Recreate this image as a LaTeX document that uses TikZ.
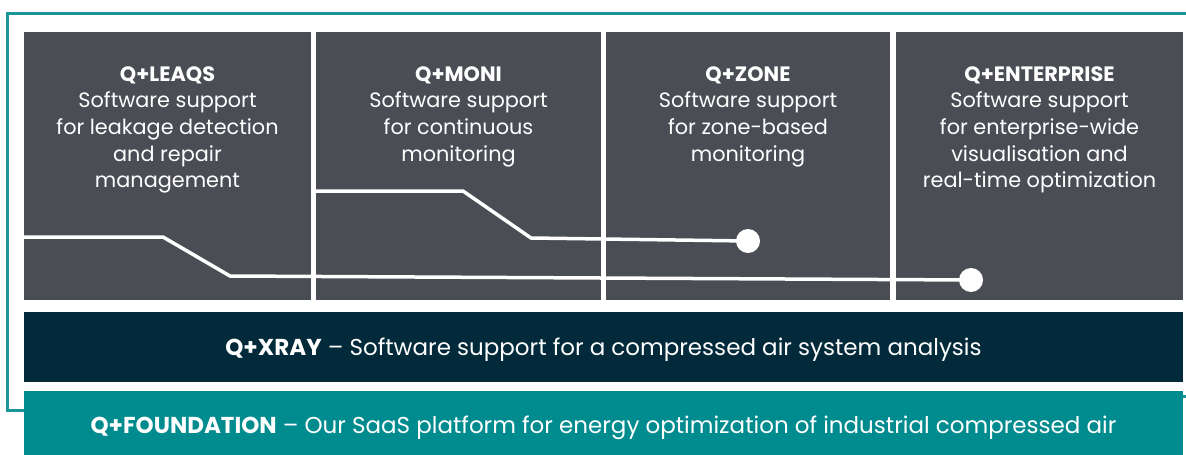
\documentclass[tikz,border=0pt]{standalone}
\usepackage{fontspec}
\setmainfont{Poppins}
\definecolor{boxgray}{HTML}{4B4D55}
\definecolor{xraynavy}{HTML}{022A3A}
\definecolor{qteal}{HTML}{008B8F}
\definecolor{frameteal}{HTML}{1A9698}
\tikzset{
  modbox/.style={fill=boxgray, draw=none, anchor=north west, inner sep=0pt, minimum height=268pt},
  modtext/.style={text=white, align=center, anchor=north, inner sep=0pt, font=\fontsize{20.8}{26.7}\selectfont},
  bandtext/.style={text=white, anchor=base, inner sep=0pt, font=\fontsize{23}{27}\selectfont},
  track/.style={white, line width=3.5pt, line join=miter},
  stopdot/.style={circle, fill=white, inner sep=0pt, minimum size=24pt},
  frame/.style={frameteal, line width=3pt}
}
\begin{document}
\begin{tikzpicture}[x=1pt,y=-1pt]
\useasboundingbox (0,0) rectangle (1186,455);
% frame
\draw[frame] (24,410) -- (7,410) -- (7,13) -- (1186,13);
\draw[frame] (1183,396) -- (1186,396);
% boxes
\node[modbox, minimum width=287pt] (b1) at (24,32) {};
\node[modbox, minimum width=285pt] (b2) at (316,32) {};
\node[modbox, minimum width=284pt] (b3) at (606,32) {};
\node[modbox, minimum width=287pt] (b4) at (896,32) {};
\node[fill=xraynavy, anchor=north west, inner sep=0pt, minimum width=1159pt, minimum height=70pt] (xray) at (24,312) {};
\node[fill=qteal, anchor=north west, inner sep=0pt, minimum width=1159pt, minimum height=64pt] (found) at (24,391) {};
% texts
\node[modtext] (t1) at (167.5,66) {\textbf{Q+LEAQS}\\Software support\\for leakage detection\\and repair\\management};
\node[modtext] (t2) at (458.5,66) {\textbf{Q+MONI}\\Software support\\for continuous\\monitoring};
\node[modtext] (t3) at (748,66) {\textbf{Q+ZONE}\\Software support\\for zone-based\\monitoring};
\node[modtext] (t4) at (1039.5,66) {\textbf{Q+ENTERPRISE}\\Software support\\for enterprise-wide\\visualisation and\\real-time optimization};
\node[bandtext] (xt) at (603.5,355) {\textbf{Q+XRAY} – Software support for a compressed air system analysis};
\node[bandtext] (ft) at (603.5,433) {\textbf{Q+FOUNDATION} – Our SaaS platform for energy optimization of industrial compressed air};
% tracks
\coordinate (a0) at (24,237);
\coordinate (a1) at (163,237);
\coordinate (a2) at (230,276);
\node[stopdot] (ad) at (971,280) {};
\coordinate (c0) at (316,191);
\coordinate (c1) at (463,191);
\coordinate (c2) at (531,238);
\node[stopdot] (cd) at (748,241) {};
\draw[track] (a0) -- (a1) -- (a2) -- (ad.center);
\draw[track] (c0) -- (c1) -- (c2) -- (cd.center);
\end{tikzpicture}
\end{document}
